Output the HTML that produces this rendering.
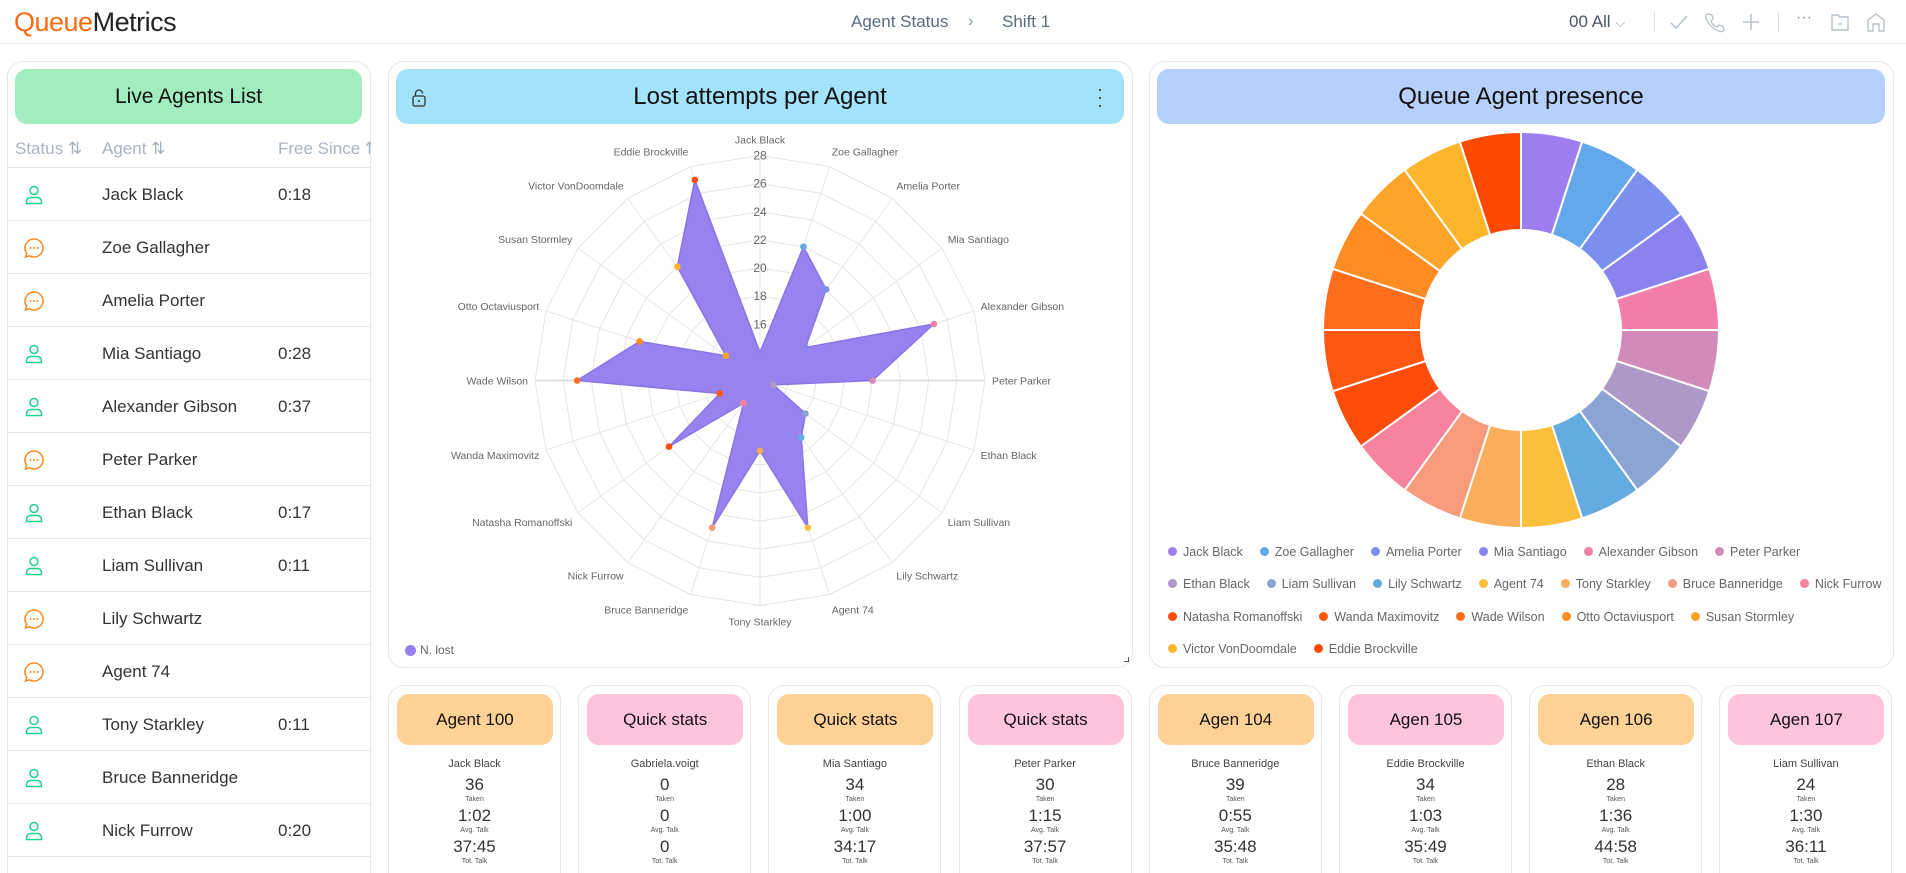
<!DOCTYPE html>
<html style="width:1906px;height:873px;overflow:hidden"><head><meta charset="utf-8">
<style>
*{box-sizing:border-box;margin:0;padding:0}
body{width:1906px;height:873px;overflow:hidden;background:#fff;font-family:"Liberation Sans",sans-serif;position:relative;color:#333}
.abs{position:absolute}
.card{position:absolute;border:1px solid #e3e7ea;border-radius:16px;background:#fff}
.hbox{position:absolute;border-radius:12px;display:flex;align-items:center;justify-content:center;color:#111}
.row{position:absolute;left:7px;width:363px;height:53px;border-bottom:1px solid #e3e7ea}
.row .nm{position:absolute;left:95px;top:17px;font-size:17px;color:#333}
.row .tm{position:absolute;left:271px;top:17px;font-size:17px;color:#333}
.row .ic{position:absolute;left:16px;top:16px;width:22px;height:22px}
.sc{position:absolute;top:685px;width:173px;height:188px;border:1px solid #e3e7ea;border-bottom:none;border-radius:16px 16px 0 0;background:#fff;text-align:center}
.sc .hb{position:absolute;left:8px;top:8px;width:156px;height:51px;border-radius:12px;font-size:17px;line-height:51px;color:#111;overflow:hidden;white-space:nowrap;text-align:center}
.sc .hb span{display:inline-block;max-width:102px;overflow:hidden;vertical-align:top;white-space:nowrap}
.sc .hb span.clip{max-width:86px}
.sc .who{position:absolute;left:0;width:100%;top:72px;font-size:11px;color:#444}
.sc .v{position:absolute;left:0;width:100%;font-size:17px;color:#333}
.sc .l{position:absolute;left:0;width:100%;font-size:7px;color:#555}
.hdr-ic{position:absolute;top:11px;width:22px;height:22px}
</style></head><body>
<!-- header -->
<div class="abs" style="left:0;top:0;width:1906px;height:44px;border-bottom:1px solid #e3e7ea"></div>
<div class="abs" style="left:14px;top:7px;font-size:27px;letter-spacing:-0.5px"><span style="color:#fd6b12">Queue</span><span style="color:#222">Metrics</span></div>
<div class="abs" style="left:851px;top:12px;font-size:17px;color:#5a6b7d">Agent Status</div>
<div class="abs" style="left:968px;top:11px;font-size:17px;color:#8a97a5">›</div>
<div class="abs" style="left:1002px;top:12px;font-size:17px;color:#5a6b7d">Shift 1</div>
<div class="abs" style="left:1569px;top:12px;font-size:17px;color:#4a5563">00 All <span style="color:#8a97a5;font-size:13px">⌵</span></div>
<div class="abs" style="left:1654px;top:12px;width:1px;height:20px;background:#dde2e6"></div>
<svg class="hdr-ic" style="left:1668px" viewBox="0 0 22 22"><path d="M3 12l5 5L19 5" fill="none" stroke="#b8c1ca" stroke-width="1.5"/></svg>
<svg class="hdr-ic" style="left:1703px" viewBox="0 0 22 22"><path d="M5 3l4 1 1 4-2 2c1 3 3 5 6 6l2-2 4 1 1 4c-1 2-3 2-5 1C10 18 5 13 3 7 2 5 3 3 5 3z" fill="none" stroke="#b8c1ca" stroke-width="1.3"/></svg>
<svg class="hdr-ic" style="left:1740px" viewBox="0 0 22 22"><path d="M11 3v16M3 11h16" stroke="#b8c1ca" stroke-width="1.5"/></svg>
<div class="abs" style="left:1778px;top:12px;width:1px;height:20px;background:#dde2e6"></div>
<div class="abs" style="left:1796px;top:9px;font-size:16px;color:#8a97a5">···</div>
<svg class="hdr-ic" style="left:1829px" viewBox="0 0 22 22"><path d="M3 4h6l2 2h8v13H3z" fill="none" stroke="#b8c1ca" stroke-width="1.4"/><path d="M9 13h4" stroke="#b8c1ca" stroke-width="1.4"/></svg>
<svg class="hdr-ic" style="left:1865px" viewBox="0 0 22 22"><path d="M3 20V9l8-6 8 6v11h-5v-7H8v7z" fill="none" stroke="#b8c1ca" stroke-width="1.4"/></svg>

<!-- left card -->
<div class="card" style="left:7px;top:61px;width:364px;height:812px;border-bottom:none;border-radius:16px 16px 0 0"></div>
<div class="hbox" style="left:15px;top:69px;width:347px;height:55px;background:#a1edbf;font-size:21px">Live Agents List</div>
<div class="abs" style="left:15px;top:139px;height:24px;font-size:17px;color:#a9b4c2;white-space:nowrap;width:356px;overflow:hidden">
<span style="position:absolute;left:0;top:0">Status ⇅</span>
<span style="position:absolute;left:87px;top:0">Agent ⇅</span>
<span style="position:absolute;left:263px;top:0">Free Since ⇅</span></div>
<div class="abs" style="left:7px;top:167px;width:363px;height:1px;background:#e3e7ea"></div>
<div id="rows"></div>

<!-- middle card -->
<div class="card" style="left:388px;top:61px;width:745px;height:607px"></div>
<div class="hbox" style="left:396px;top:69px;width:728px;height:55px;background:#a3e2fb;font-size:24px">Lost attempts per Agent</div>
<svg class="abs" style="left:411px;top:89px" width="16" height="18" viewBox="0 0 16 18"><rect x="2" y="7" width="12" height="10" rx="2" fill="none" stroke="#333" stroke-width="1.3"/><path d="M4.5 7V4.5a3.5 3.5 0 0 1 7 0" fill="none" stroke="#333" stroke-width="1.3"/><circle cx="8" cy="12" r="1" fill="#333"/></svg>
<div class="abs" style="left:1097px;top:85px;font-size:18px;color:#333;line-height:8px">·<br>·<br>·</div>
<div class="abs" style="left:405px;top:643px;font-size:12px;color:#666"><span style="display:inline-block;width:11px;height:11px;border-radius:50%;background:#9680ef;vertical-align:-2px;margin-right:4px"></span>N. lost</div>
<div class="abs" style="left:1124px;top:657px;width:5px;height:5px;border-right:1.5px solid #555;border-bottom:1.5px solid #555"></div>

<!-- right card -->
<div class="card" style="left:1149px;top:61px;width:745px;height:607px"></div>
<div class="hbox" style="left:1157px;top:69px;width:728px;height:55px;background:#b5d1fb;font-size:24px">Queue Agent presence</div>
<div id="dlegend" class="abs" style="left:1168px;top:545px;width:720px;font-size:12.5px;color:#666"></div>

<svg id="charts" class="abs" style="left:0;top:0" width="1906" height="873"></svg>

<div id="stats"></div>

<script>
const agents=["Jack Black","Zoe Gallagher","Amelia Porter","Mia Santiago","Alexander Gibson","Peter Parker","Ethan Black","Liam Sullivan","Lily Schwartz","Agent 74","Tony Starkley","Bruce Banneridge","Nick Furrow","Natasha Romanoffski","Wanda Maximovitz","Wade Wilson","Otto Octaviusport","Susan Stormley","Victor VonDoomdale","Eddie Brockville"];
const lostAttempts=[14,22,20,16,25,20,13,16,17,23,17,23,14,20,15,25,21,15,22,27];
const presence=[1,1,1,1,1,1,1,1,1,1,1,1,1,1,1,1,1,1,1,1];
const radialTicks=[16,18,20,22,24,26,28];
const agentColors=["#9d7df0","#64a8ec","#7b8ff0","#8a83ef","#f27ea9","#d08bb8","#ad98c8","#8ca4d3","#62ace0","#fbbf3c","#f8ae5a","#f89a7c","#f7839f","#fe4d0a","#fd5712","#fd6d1b","#fe8c20","#fea429","#fdb52b","#fe4a00"];
const legendRows=[[0,1,2,3,4,5],[6,7,8,9,10,11,12],[13,14,15,16,17],[18,19]];
const listStatus=["free","busy","busy","free","free","busy","free","free","busy","busy","free","free","free"];
const listFree=["0:18","","","0:28","0:37","","0:17","0:11","","","0:11","","0:20"];
const statHeads=["Agent 100","Quick stats","Quick stats","Quick stats","Agen 104","Agen 105","Agen 106","Agen 107"];
const statNames=["Jack Black","Gabriela.voigt","Mia Santiago","Peter Parker","Bruce Banneridge","Eddie Brockville","Ethan Black","Liam Sullivan"];
const statTaken=["36","0","34","30","39","34","28","24"];
const statAvg=["1:02","0","1:00","1:15","0:55","1:03","1:36","1:30"];
const statTot=["37:45","0","34:17","37:57","35:48","35:49","44:58","36:11"];

const NS="http://www.w3.org/2000/svg";
const svg=document.getElementById('charts');
function mk(t,a,p){const e=document.createElementNS(NS,t);for(const k in a)e.setAttribute(k,a[k]);(p||svg).appendChild(e);return e;}

// radar
const cx=760,cy=380.5,R=225,vMin=12,vMax=28;
const rScale=v=>(v-vMin)/(vMax-vMin)*R;
const n=agents.length;
const ang=i=>i*2*Math.PI/n;
const pt=(i,r)=>[cx+r*Math.sin(ang(i)),cy-r*Math.cos(ang(i))];
const rg=mk('g',{});


for(let t=14;t<=28;t+=2){
  const p=[];for(let i=0;i<n;i++)p.push(pt(i,rScale(t)).join(','));
  const ring=mk('polygon',{points:p.join(' '),fill:'none',stroke:'#e6e6e6','stroke-width':1},rg);
  
  
}
for(let i=0;i<n;i++){
  const [x,y]=pt(i,R);
  const sp=mk('line',{x1:cx,y1:cy,x2:x,y2:y,stroke:(i==5||i==15)?'#e0e0e0':'#e6e6e6','stroke-width':(i==5||i==15)?2:1},rg);
  
  
}
const poly=[];for(let i=0;i<n;i++)poly.push(pt(i,rScale(lostAttempts[i])).join(','));
const area=mk('polygon',{points:poly.join(' '),fill:'#9680ef','fill-opacity':0.98,stroke:'#8a74e6','stroke-width':1.5},rg);


radialTicks.forEach(t=>{
  const tl=mk('text',{x:cx,y:cy-rScale(t)+4,'text-anchor':'middle','font-size':12,fill:'#666','font-family':'Liberation Sans, sans-serif'},rg);
  tl.textContent=t;
  
  
});
for(let i=0;i<n;i++){
  const [x,y]=pt(i,rScale(lostAttempts[i]));
  const c=mk('circle',{cx:x,cy:y,r:3.3,fill:agentColors[i]},rg);
  
  
  const a=ang(i),s=Math.sin(a),co=Math.cos(a);
  const [lx,ly]=pt(i,R+7);
  const anchor=Math.abs(s)<0.05?'middle':(s>0?'start':'end');
  const lt=mk('text',{x:lx,y:ly-co*9+4,'text-anchor':anchor,'font-size':10.5,fill:'#666','font-family':'Liberation Sans, sans-serif'},rg);
  lt.textContent=agents[i];
  
  
}

// donut
const dcx=1521,dcy=330,dR=198,dr=100;
const total=presence.reduce((a,b)=>a+b,0);
const dg=mk('g',{});


let acc=0;
presence.forEach((v,i)=>{
  const a0=acc/total*2*Math.PI,a1=(acc+v)/total*2*Math.PI;acc+=v;
  const P=(r,a)=>[dcx+r*Math.sin(a),dcy-r*Math.cos(a)];
  const [x0,y0]=P(dR,a0),[x1,y1]=P(dR,a1),[x2,y2]=P(dr,a1),[x3,y3]=P(dr,a0);
  const lg=(a1-a0)>Math.PI?1:0;
  const s=mk('path',{d:`M${x0},${y0}A${dR},${dR} 0 ${lg} 1 ${x1},${y1}L${x2},${y2}A${dr},${dr} 0 ${lg} 0 ${x3},${y3}Z`,fill:agentColors[i],stroke:'#fff','stroke-width':2},dg);
  
  
});

// donut legend
const dl=document.getElementById('dlegend');
legendRows.forEach((row,ri)=>{
  const r=document.createElement('div');
  r.style.cssText='position:absolute;left:0;top:'+(ri*32.3)+'px;display:flex;gap:17px;white-space:nowrap';
  row.forEach(i=>{
    const it=document.createElement('span');
    
    
    it.innerHTML='<span style="display:inline-block;width:9px;height:9px;border-radius:50%;background:'+agentColors[i]+';margin-right:6px;vertical-align:0"></span>'+agents[i];
    r.appendChild(it);
  });
  dl.appendChild(r);
});

// agent list
const rows=document.getElementById('rows');
listStatus.forEach((st,k)=>{
  const d=document.createElement('div');
  d.className='row';
  d.style.top=(168+53*k)+'px';
  
  
  const icon=st==='free'
   ?'<svg class="ic" viewBox="0 0 22 22"><circle cx="11" cy="6.5" r="4" fill="none" stroke="#1ed28a" stroke-width="1.5"/><path d="M3.5 19.5v-2a4 4 0 0 1 4-4h7a4 4 0 0 1 4 4v2z" fill="none" stroke="#1ed28a" stroke-width="1.5"/></svg>'
   :'<svg class="ic" viewBox="0 0 22 22"><path d="M11 2a9 9 0 1 1-4.5 16.8L2.5 20l1.2-3.8A9 9 0 0 1 11 2z" fill="none" stroke="#fd8a1c" stroke-width="1.5"/><circle cx="7.5" cy="11" r="1" fill="#fd8a1c"/><circle cx="11" cy="11" r="1" fill="#fd8a1c"/><circle cx="14.5" cy="11" r="1" fill="#fd8a1c"/></svg>';
  d.innerHTML=icon+'<span class="nm">'+agents[k]+'</span><span class="tm">'+listFree[k]+'</span>';
  rows.appendChild(d);
});

// stat cards
const stats=document.getElementById('stats');
statHeads.forEach((h,k)=>{
  const c=document.createElement('div');
  c.className='sc';
  c.style.left=(388+190.2*k)+'px';
  
  
  const bg=k%2===0?'#fed194':'#fec4db';
  const cls=h==='Quick stats'?' class="clip"':'';
  c.innerHTML='<div class="hb" style="background:'+bg+'"><span'+cls+'>'+h+'</span></div>'+
   '<div class="who">'+statNames[k]+'</div>'+
   '<div class="v" style="top:89px">'+statTaken[k]+'</div><div class="l" style="top:110px">Taken</div>'+
   '<div class="v" style="top:120px">'+statAvg[k]+'</div><div class="l" style="top:141px">Avg. Talk</div>'+
   '<div class="v" style="top:151px">'+statTot[k]+'</div><div class="l" style="top:172px">Tot. Talk</div>';
  stats.appendChild(c);
});
</script>
</body></html>
